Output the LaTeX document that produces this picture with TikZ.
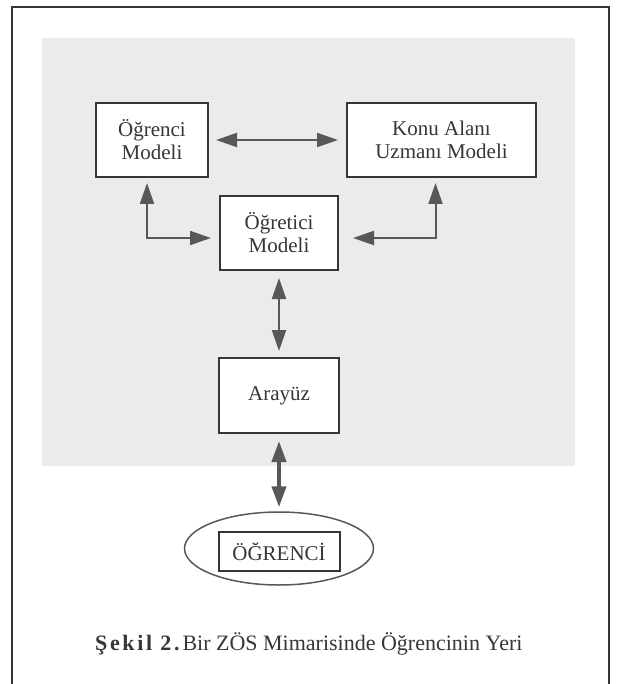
\documentclass[tikz,border=0pt]{standalone}
\usepackage{fontspec}
\setmainfont{Liberation Serif}
\usetikzlibrary{arrows.meta,shapes.geometric}
\definecolor{ink}{HTML}{363636}
\definecolor{arrgray}{HTML}{585858}
\definecolor{scan}{HTML}{EBEBEB}
\tikzset{
  box/.style={draw=ink, line width=2pt, fill=white, text=ink, align=center, inner sep=0pt,
    font=\fontsize{21}{23}\selectfont},
  arr/.style={arrgray, line width=2pt,
    {Triangle[length=21pt,width=14pt]}-{Triangle[length=21pt,width=14pt]}},
}
\begin{document}
\begin{tikzpicture}[x=1pt,y=-1pt]
\useasboundingbox (0,0) rectangle (618,684);
\fill[scan] (42,38) rectangle (575,466);
\draw[ink, line width=1.5pt] (12,684) -- (12,7) -- (609,7) -- (609,684);
\node[box, minimum width=112pt, minimum height=74pt] (om) at (152,140) {Öğrenci\\Modeli};
\node[box, minimum width=189pt, minimum height=74pt] (km) at (441.5,140) {Konu Alanı\\Uzmanı Modeli};
\node[box, minimum width=118pt, minimum height=74pt] (tm) at (279,233) {Öğretici\\Modeli};
\node[box, minimum width=120pt, minimum height=75pt] (ar) at (279,395.5) {Arayüz};
\node[ellipse, draw=arrgray, line width=1.5pt, minimum width=189pt, minimum height=73pt, inner sep=0pt] (el) at (279,548.5) {};
\node[box, minimum width=121pt, minimum height=39pt] (og) at (279,551.5) {ÖĞRENCİ};
\node[anchor=base west, text=ink, font=\fontsize{22}{24}\selectfont, inner sep=0pt] (cap) at (95,650)
  {{\bfseries\addfontfeature{LetterSpace=12}Şekil 2.}\hspace{3pt}Bir ZÖS Mimarisinde Öğrencinin Yeri};
\draw[arr, shorten <=7pt, shorten >=8pt] (om) -- (km);
\draw[arr, shorten <=5pt, shorten >=8pt] ([xshift=-5pt]om.south) |- ([yshift=-5pt]tm.west);
\draw[arr, shorten <=5pt, shorten >=14pt] ([xshift=-6pt]km.south) |- ([yshift=-5pt]tm.east);
\draw[arr, shorten <=7pt, shorten >=6pt] (tm) -- (ar);
\draw[arr, line width=4pt, shorten <=7pt, shorten >=4pt] (ar) -- (el);
\end{tikzpicture}
\end{document}
